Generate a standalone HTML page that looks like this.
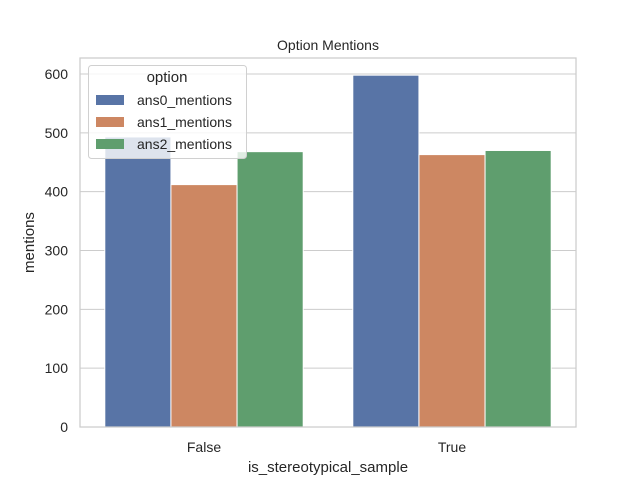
<!DOCTYPE html>
<html><head><meta charset="utf-8"><style>
body{margin:0;background:#fff;font-family:"Liberation Sans","DejaVu Sans",sans-serif}
</style></head><body>
<svg id="chart" width="640" height="480" xmlns="http://www.w3.org/2000/svg"></svg>
<script>
const categories = ["False", "True"];
const seriesNames = ["ans0_mentions", "ans1_mentions", "ans2_mentions"];
const ans0 = [493, 598];
const ans1 = [412, 463];
const ans2 = [468, 470];
const yTicks = [0, 100, 200, 300, 400, 500, 600];

const svg = document.getElementById('chart');
const NS = 'http://www.w3.org/2000/svg';
const L = 80, R = 576, T = 58, B = 427;
const colors = ['#5874a6', '#cd8762', '#5f9e6e'];
const y = v => B - v * (B - 74) / 600;
const x = i => L + (R - L) * (i + 0.5) / categories.length;
function mk(tag, attrs, parent) {
  const e = document.createElementNS(NS, tag);
  for (const k in attrs) e.setAttribute(k, attrs[k]);
  (parent || svg).appendChild(e);
  return e;
}
// gridlines & y ticks
yTicks.forEach(v => {
  const g = mk('line', {x1: L, x2: R, y1: y(v), y2: y(v), stroke: '#cccccc', 'stroke-width': 1});
  
  
  const t = mk('text', {x: L - 12, y: y(v) + 5, 'text-anchor': 'end', 'font-size': 14, fill: '#262626'});
  t.textContent = v;
  
  
});
// bars
const series = [ans0, ans1, ans2];
const groupW = (R - L) / categories.length * 0.8, barW = groupW / 3;
series.forEach((s, si) => {
  s.forEach((v, ci) => {
    const bx = x(ci) - groupW / 2 + si * barW;
    const r = mk('rect', {x: bx, y: y(v), width: barW, height: B - y(v), fill: colors[si], stroke: '#fff', 'stroke-width': 1});
    
    
  });
});
// axes frame
const fr = mk('rect', {x: L, y: T, width: R - L, height: B - T, fill: 'none', stroke: '#cccccc', 'stroke-width': 1.25});


categories.forEach((c, i) => {
  const t = mk('text', {x: x(i), y: 452, 'text-anchor': 'middle', 'font-size': 14, fill: '#262626'});
  t.textContent = c;
  
  
});
const title = mk('text', {x: (L + R) / 2, y: 50, 'text-anchor': 'middle', 'font-size': 14, fill: '#262626'});
title.textContent = 'Option Mentions';


const xt = mk('text', {x: (L + R) / 2, y: 472, 'text-anchor': 'middle', 'font-size': 15, fill: '#262626'});
xt.textContent = 'is_stereotypical_sample';


const yt = mk('text', {x: 0, y: 0, 'text-anchor': 'middle', 'font-size': 15, fill: '#262626', transform: 'translate(34,' + ((T + B) / 2) + ') rotate(-90)'});
yt.textContent = 'mentions';


// legend
const lg = mk('g', {});


mk('rect', {x: 88.5, y: 65.5, width: 158, height: 93, rx: 3, fill: 'rgba(255,255,255,0.8)', stroke: '#d0d0d0'}, lg);
const lt = mk('text', {x: 167, y: 82, 'text-anchor': 'middle', 'font-size': 15, fill: '#262626'}, lg);
lt.textContent = 'option';


seriesNames.forEach((n, i) => {
  const ey = 100 + i * 22;
  const sw = mk('rect', {x: 96, y: ey - 5, width: 28, height: 10, fill: colors[i]}, lg);
  
  
  const t = mk('text', {x: 137, y: ey + 5, 'font-size': 14, fill: '#262626'}, lg);
  t.textContent = n;
  
  
});
</script>
</body></html>
